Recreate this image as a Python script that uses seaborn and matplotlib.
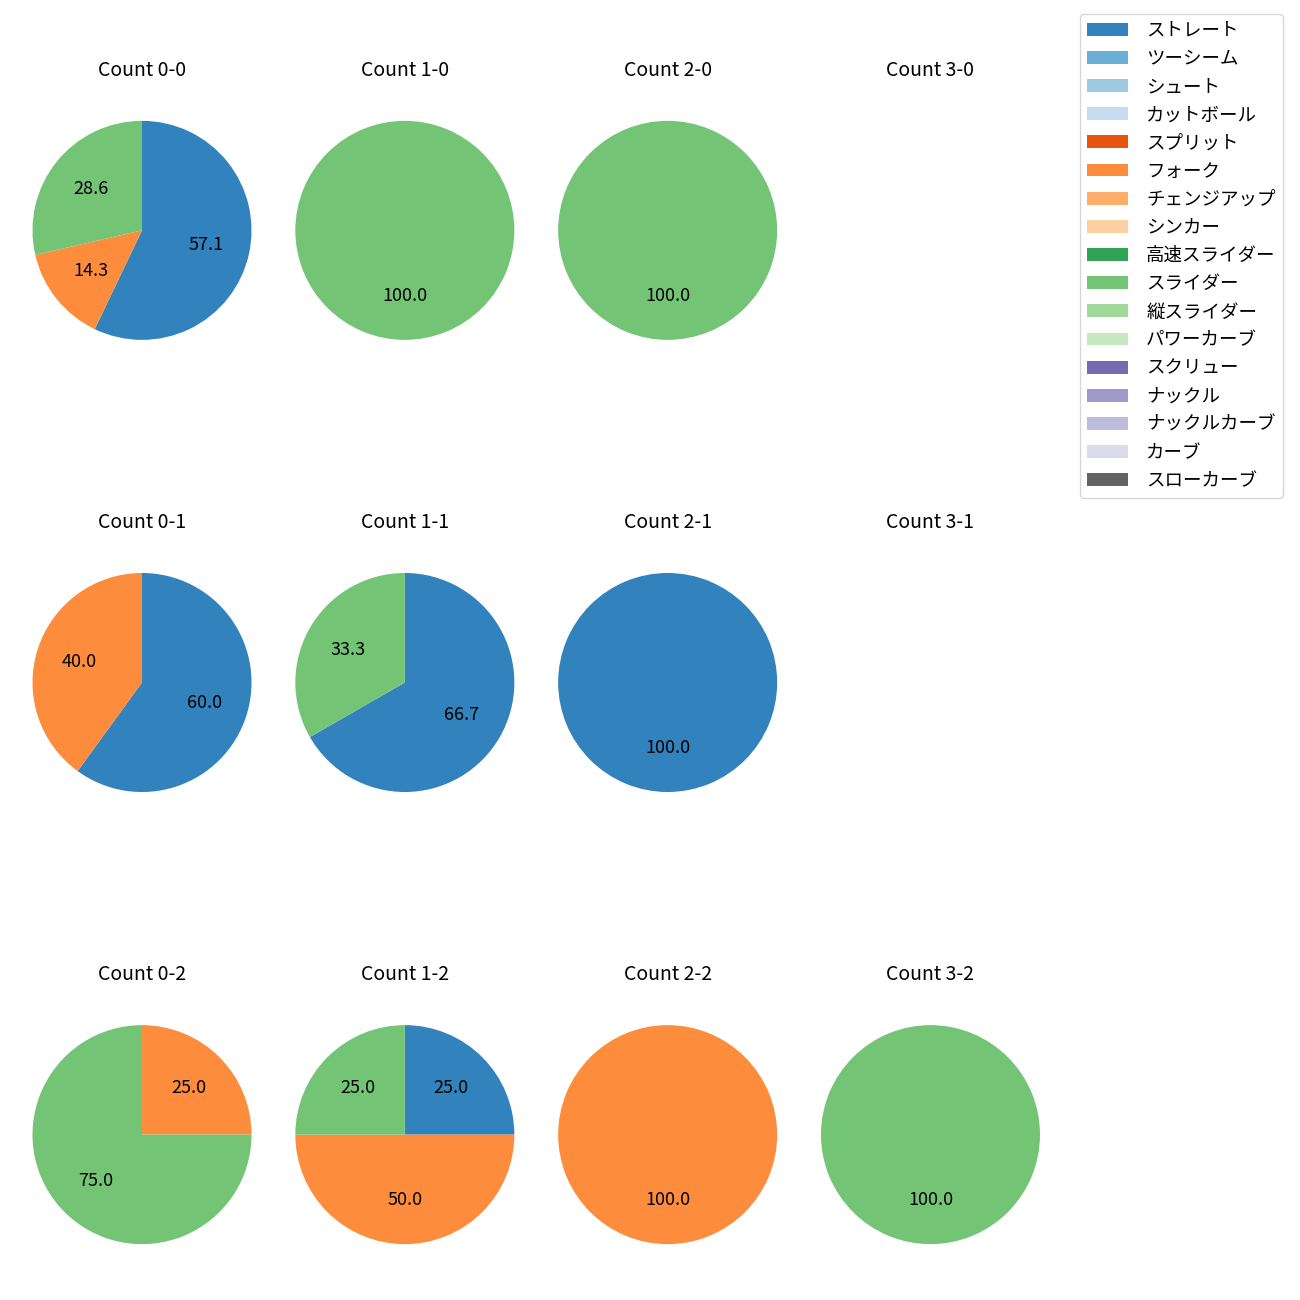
import numpy as np
import seaborn as sns
from matplotlib import pyplot as plt
from matplotlib.patches import Patch

# 球種 (legend order)
pitch_types = ["ストレート", "ツーシーム", "シュート", "カットボール", "スプリット",
               "フォーク", "チェンジアップ", "シンカー", "高速スライダー", "スライダー",
               "縦スライダー", "パワーカーブ", "スクリュー", "ナックル", "ナックルカーブ",
               "カーブ", "スローカーブ"]

# counts (balls-strikes) and pitch mix per count, as percentages
counts = ["0-0", "1-0", "2-0", "3-0",
          "0-1", "1-1", "2-1", "3-1",
          "0-2", "1-2", "2-2", "3-2"]
count_pitches = {
    "0-0": ["ストレート", "フォーク", "スライダー"],
    "1-0": ["スライダー"],
    "2-0": ["スライダー"],
    "3-0": [],
    "0-1": ["ストレート", "フォーク"],
    "1-1": ["ストレート", "スライダー"],
    "2-1": ["ストレート"],
    "3-1": [],
    "0-2": ["フォーク", "スライダー"],
    "1-2": ["ストレート", "フォーク", "スライダー"],
    "2-2": ["フォーク"],
    "3-2": ["スライダー"],
}
count_values = {
    "0-0": [57.1, 14.3, 28.6],
    "1-0": [100.0],
    "2-0": [100.0],
    "3-0": [],
    "0-1": [60.0, 40.0],
    "1-1": [66.7, 33.3],
    "2-1": [100.0],
    "3-1": [],
    "0-2": [25.0, 75.0],
    "1-2": [25.0, 50.0, 25.0],
    "2-2": [100.0],
    "3-2": [100.0],
}

palette = sns.color_palette("tab20c", len(pitch_types))
colors = dict(zip(pitch_types, palette))

plt.rcParams['font.family'] = ['Noto Sans CJK JP', 'DejaVu Sans']

fig, axes = plt.subplots(3, 4, figsize=(13, 13), dpi=100)
plt.subplots_adjust(left=0.025, right=0.8, bottom=0.015, top=0.935,
                    wspace=0.2, hspace=0.55)

for ax, c in zip(axes.flat, counts):
    vals = count_values[c]
    labs = count_pitches[c]
    ax.set_title(f"Count {c}", fontsize=14)
    if len(vals) == 0:
        ax.axis('off')
        continue
    ax.pie(vals, colors=[colors[p] for p in labs], autopct='%.1f',
           startangle=90, counterclock=False, textprops={'fontsize': 13})
    ax.set_xlim(-1, 1)
    ax.set_ylim(-1, 1)
    ax.set_aspect('equal', adjustable='datalim')

handles = [Patch(facecolor=colors[p], label=p) for p in pitch_types]
fig.legend(handles=handles, loc='upper right', bbox_to_anchor=(0.987, 0.989),
           borderaxespad=0, fontsize=13.3, labelspacing=0.55,
           handlelength=2.2, handletextpad=1.0)

plt.savefig("out.png")
